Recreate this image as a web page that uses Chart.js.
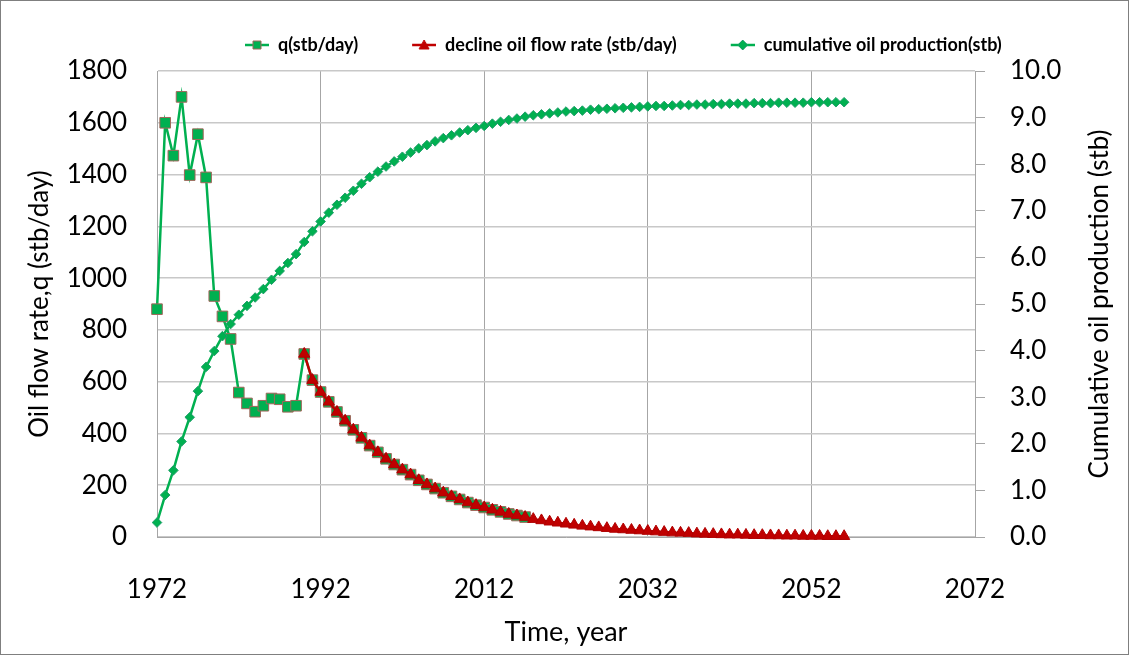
<!DOCTYPE html>
<html>
<head>
<meta charset="utf-8">
<script src="https://cdn.jsdelivr.net/npm/chart.js@4.4.1/dist/chart.umd.min.js"></script>
<style>
  html, body { margin: 0; padding: 0; background: #fff; }
  #frame { width: 1129px; height: 655px; box-sizing: border-box; border: 1px solid #7f7f7f; }
  canvas { display: block; }
</style>
</head>
<body>
<div id="frame"><canvas id="decline" width="1127" height="653"></canvas></div>
<script>
// measured rate, stb/day
const qStartYear = 1972;
const qRate = [880, 1600, 1473, 1700, 1398, 1556, 1389, 931, 852, 765,
  558, 516, 484, 507, 535, 532, 503, 507, 707,
  606, 560, 522, 483, 449, 414, 383, 353, 327, 302,
  280, 260, 241, 219, 203, 187, 171, 157, 145, 133,
  123, 114, 105, 97, 89, 83, 77];

// decline curve fit, stb/day
const declineStartYear = 1990;
const declineRate = [707,
  606, 560, 522, 483, 449, 414, 383, 353, 327, 302,
  280, 260, 241, 219, 203, 187, 171, 157, 145, 133,
  123, 114, 105, 97, 89, 83, 77, 69,
  64, 59, 55, 51, 47, 43, 40, 37, 34, 31,
  29, 27, 25, 23, 21, 19, 17, 16, 15, 13,
  12, 11, 10, 9, 9, 8, 7, 7, 6, 6,
  5, 5, 4, 4, 4, 3, 3, 3];

// cumulative production (right axis)
const cumStartYear = 1972;
const cumProduction = [0.31, 0.90, 1.43, 2.05, 2.57, 3.13, 3.65, 3.99, 4.31, 4.57,
  4.77, 4.96, 5.14, 5.32, 5.52, 5.71, 5.88, 6.07, 6.33, 6.56,
  6.77, 6.96, 7.13, 7.28, 7.43, 7.58, 7.72, 7.84, 7.95, 8.06,
  8.16, 8.25, 8.34, 8.41, 8.49, 8.56, 8.62, 8.68, 8.73, 8.78,
  8.82, 8.87, 8.91, 8.95, 8.98, 9.02, 9.05, 9.07, 9.09, 9.11,
  9.13, 9.14, 9.15, 9.17, 9.18, 9.19, 9.20, 9.21, 9.22,
  9.23, 9.24, 9.25, 9.25, 9.26, 9.27, 9.27, 9.28, 9.28, 9.29,
  9.29, 9.30, 9.30, 9.30, 9.31, 9.31, 9.31, 9.32, 9.32, 9.32,
  9.32, 9.33, 9.33, 9.33, 9.33, 9.33];

const xTicks = [1972, 1992, 2012, 2032, 2052, 2072];
const leftTicks = [0, 200, 400, 600, 800, 1000, 1200, 1400, 1600, 1800];
const rightTicks = [0, 1, 2, 3, 4, 5, 6, 7, 8, 9, 10];

const seriesLabels = ["q(stb/day)", "decline oil flow rate (stb/day)", "cumulative oil production(stb)"];
const xTitle = "Time, year";
const leftTitle = "Oil flow rate,q (stb/day)";
const rightTitle = "Cumulative oil production (stb)";

const green = "#00B050";
const red = "#C00000";

function toPoints(start, values) {
  return values.map((v, i) => ({ x: start + i, y: v }));
}

// line + marker swatch, blank on the left to space the legend items
function legendIcon(shape, fill, stroke) {
  const c = document.createElement("canvas");
  c.width = 62;
  c.height = 14;
  const g = c.getContext("2d");
  g.strokeStyle = fill;
  g.lineWidth = 2.5;
  g.beginPath();
  g.moveTo(38, 7);
  g.lineTo(62, 7);
  g.stroke();
  g.fillStyle = fill;
  g.strokeStyle = stroke;
  g.lineWidth = 1;
  g.beginPath();
  if (shape === "rect") {
    g.rect(46, 3, 8, 8);
  } else if (shape === "triangle") {
    g.moveTo(50, 2); g.lineTo(55, 11); g.lineTo(45, 11);
  } else {
    g.moveTo(50, 2); g.lineTo(55, 7); g.lineTo(50, 12); g.lineTo(45, 7);
  }
  g.closePath();
  g.fill();
  g.stroke();
  return c;
}

const legendIcons = [
  legendIcon("rect", green, "#A0665A"),
  legendIcon("triangle", red, red),
  legendIcon("diamond", green, "#1F9E6A"),
];

// excel puts the legend right of centre, a bit above the plot
const legendShift = {
  id: "legendShift",
  afterLayout(chart) {
    const lg = chart.legend;
    const h = lg.bottom - lg.top;
    lg.left = 190;
    lg.right = chart.width;
    lg.top = 19;
    lg.bottom = lg.top + h;
  },
};

const rightTitlePlugin = {
  id: "rightTitle",
  afterDraw(chart) {
    const { ctx, chartArea } = chart;
    ctx.save();
    ctx.translate(chart.scales.y1.right - 22, (chartArea.top + chartArea.bottom) / 2);
    ctx.rotate(-Math.PI / 2);
    ctx.font = "26px Lato";
    ctx.fillStyle = "#000";
    ctx.textAlign = "center";
    ctx.textBaseline = "middle";
    ctx.fillText(rightTitle, 0, 0);
    ctx.restore();
  },
};

Chart.defaults.font.family = "Lato, 'Noto Sans', sans-serif";
Chart.defaults.color = "#000";

const ctx = document.getElementById("decline").getContext("2d");
const declineChart = new Chart(ctx, {
  type: "line",
  data: {
    datasets: [
      {
        label: seriesLabels[0],
        data: toPoints(qStartYear, qRate),
        yAxisID: "y",
        borderColor: green,
        borderWidth: 2.5,
        pointStyle: "rect",
        pointRadius: 7.5,
        pointBackgroundColor: green,
        pointBorderColor: "#A0665A",
        pointBorderWidth: 1,
        order: 2,
        clip: false,
      },
      {
        label: seriesLabels[1],
        data: toPoints(declineStartYear, declineRate),
        yAxisID: "y",
        borderColor: red,
        borderWidth: 2.5,
        pointStyle: "triangle",
        pointRadius: 6.5,
        pointBackgroundColor: red,
        pointBorderColor: "#B00000",
        pointBorderWidth: 1,
        order: 1,
        clip: false,
      },
      {
        label: seriesLabels[2],
        data: toPoints(cumStartYear, cumProduction),
        yAxisID: "y1",
        borderColor: green,
        borderWidth: 2.5,
        pointStyle: "rectRot",
        pointRadius: 4.8,
        pointBackgroundColor: green,
        pointBorderColor: "#1F9E6A",
        pointBorderWidth: 1,
        order: 0,
        clip: false,
      },
    ],
  },
  options: {
    responsive: false,
    animation: false,
    devicePixelRatio: 1,
    layout: { padding: { left: 6, right: 6, top: 26, bottom: 4 } },
    plugins: {
      tooltip: { enabled: false },
      legend: {
        position: "top",
        align: "start",
        labels: {
          usePointStyle: true,
          pointStyleWidth: 62,
          padding: 16,
          font: { size: 18, weight: "bold" },
          color: "#000",
          generateLabels: (chart) =>
            chart.data.datasets.map((ds, i) => ({
              text: ds.label,
              pointStyle: legendIcons[i],
              datasetIndex: i,
              hidden: false,
              lineWidth: 0,
              fillStyle: "transparent",
              strokeStyle: "transparent",
              fontColor: "#000",
            })),
        },
      },
    },
    scales: {
      x: {
        type: "linear",
        min: xTicks[0],
        max: xTicks[xTicks.length - 1],
        afterBuildTicks: (s) => { s.ticks = xTicks.map((v) => ({ value: v })); },
        afterFit: (s) => { s.height = 113; },
        ticks: { font: { size: 26 }, padding: 37, callback: (v) => String(v) },
        grid: { color: "#A6A6A6", lineWidth: 1, drawTicks: false },
        border: { color: "#A6A6A6" },
        title: { display: true, text: xTitle, font: { size: 27 }, padding: { top: 0, bottom: 2 } },
      },
      y: {
        position: "left",
        min: leftTicks[0],
        max: leftTicks[leftTicks.length - 1],
        afterBuildTicks: (s) => { s.ticks = leftTicks.map((v) => ({ value: v })); },
        afterFit: (s) => { s.width = 150; },
        ticks: { font: { size: 26 }, padding: 30, callback: (v) => String(v) },
        grid: { color: "#C8C8C8", lineWidth: 1.5, drawTicks: false },
        border: { color: "#A6A6A6" },
        title: { display: true, text: leftTitle, font: { size: 26 }, padding: { top: 17, bottom: 0 } },
      },
      y1: {
        position: "right",
        min: rightTicks[0],
        max: rightTicks[rightTicks.length - 1],
        afterBuildTicks: (s) => { s.ticks = rightTicks.map((v) => ({ value: v })); },
        afterFit: (s) => { s.width = 147; },
        ticks: { font: { size: 26 }, padding: 25, callback: (v) => v.toFixed(1) },
        grid: { drawOnChartArea: false, drawTicks: true, tickLength: 10, color: "#A6A6A6" },
        border: { color: "#A6A6A6" },
      },
    },
  },
  plugins: [legendShift, rightTitlePlugin],
});
</script>
</body>
</html>
